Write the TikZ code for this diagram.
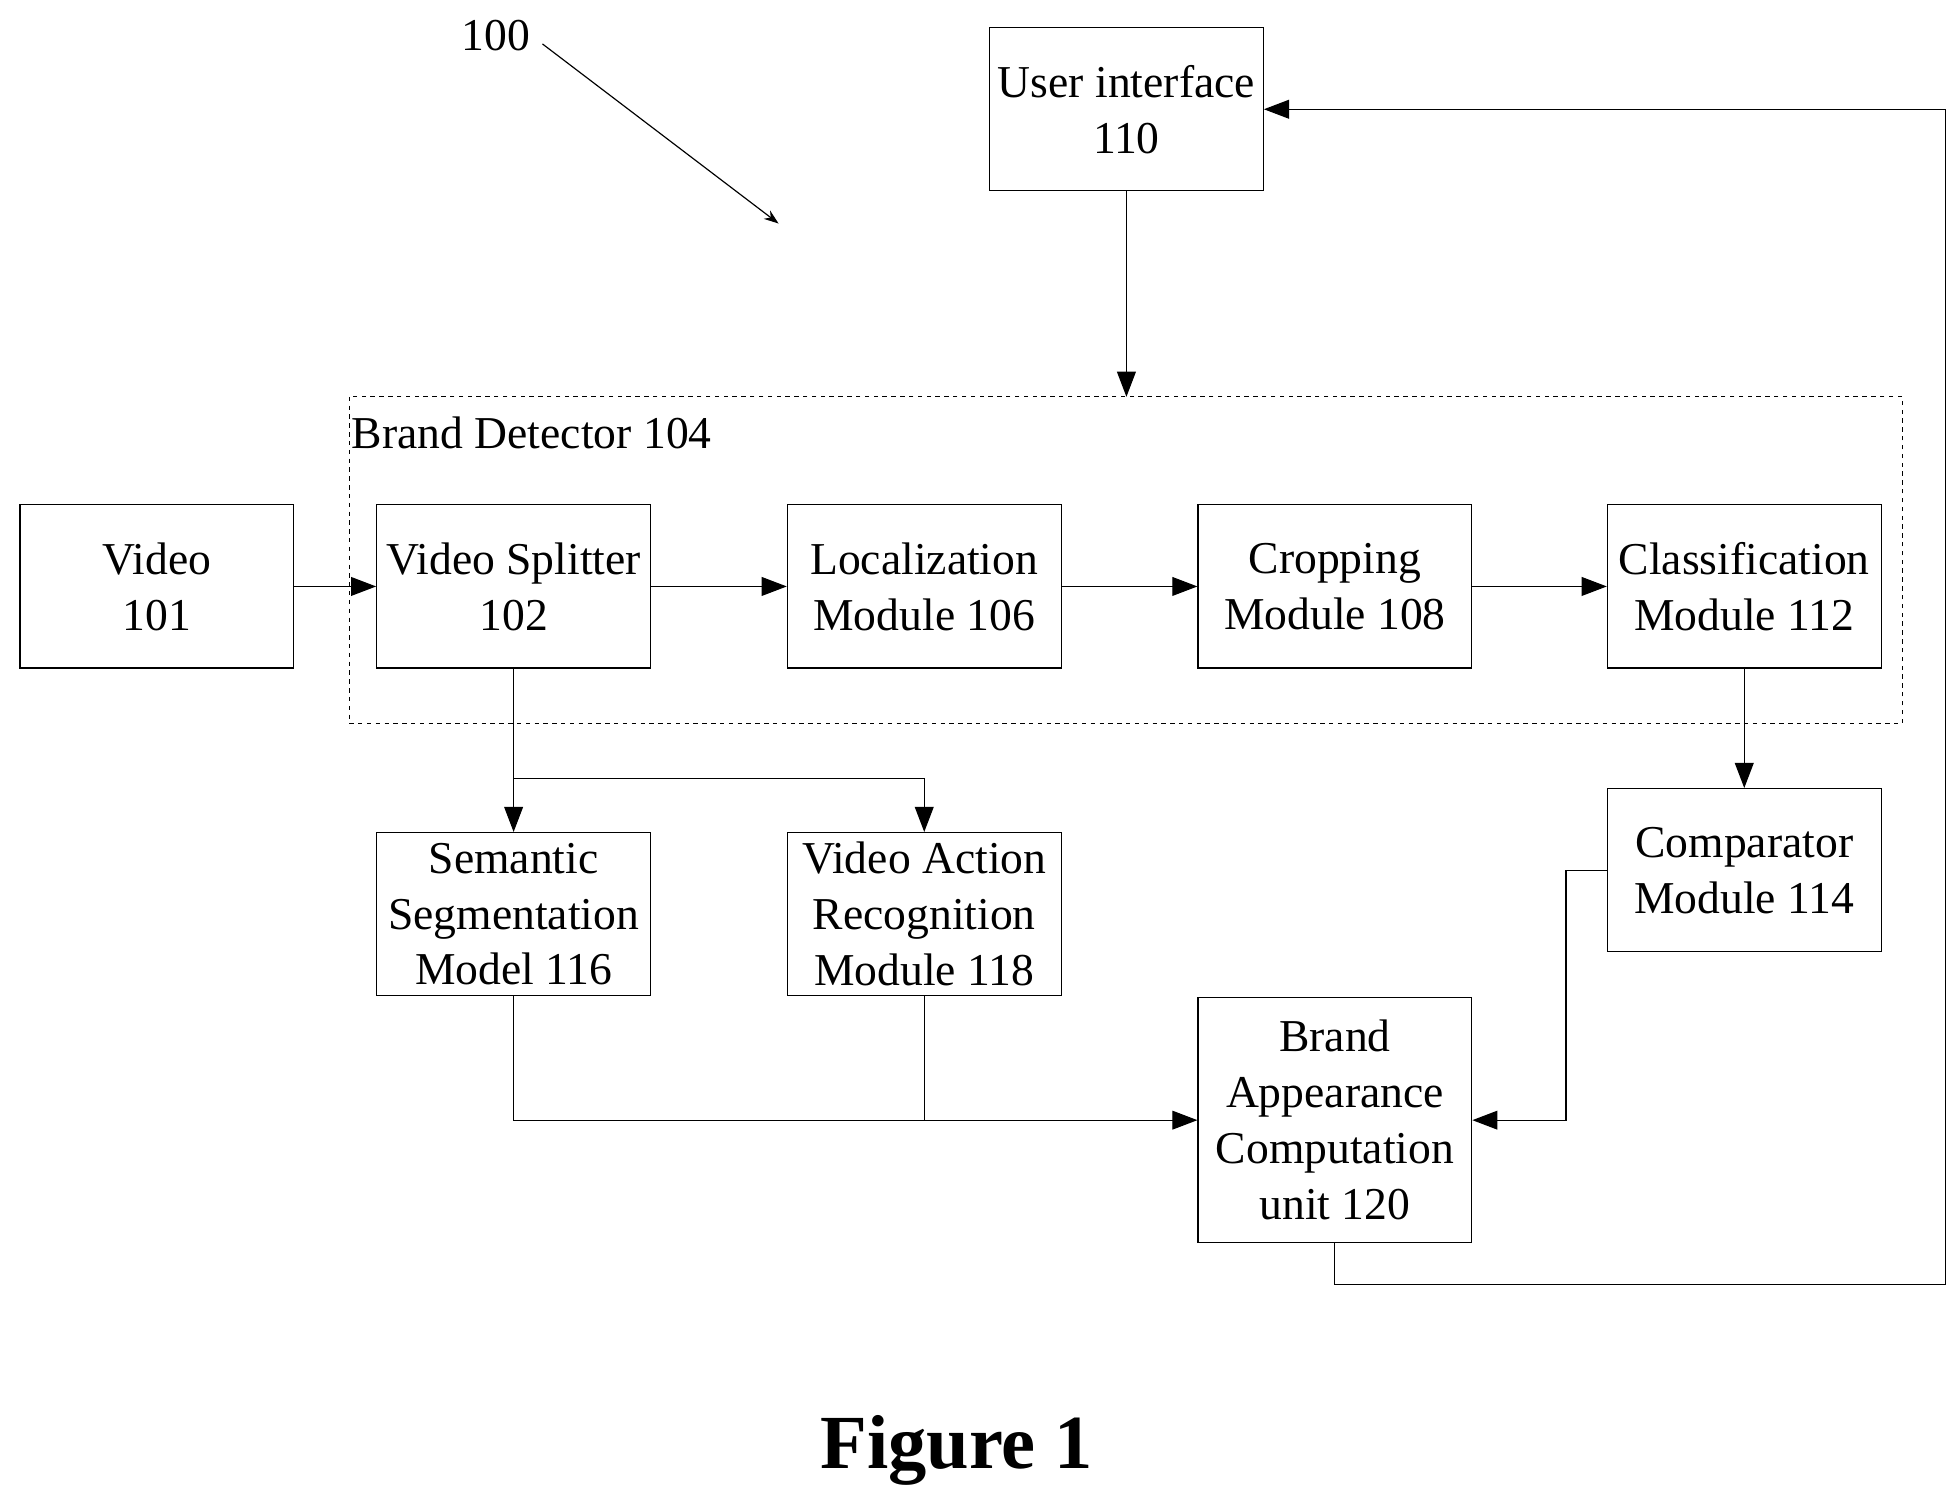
\documentclass[tikz,border=0pt]{standalone}
\usepackage{fontspec}
\setmainfont{Liberation Serif}
\usetikzlibrary{arrows.meta}
\begin{document}
\begin{tikzpicture}[x=0.03cm, y=-0.03cm,
    box/.style={draw, line width=0.8pt, minimum width=6.54cm, minimum height=3.9cm, align=center, inner sep=0pt},
    arr/.style={line width=0.8pt, -{Triangle[length=0.6cm,width=0.45cm]}},
    every node/.style={font=\fontsize{31}{38}\selectfont}]
    \useasboundingbox (0,0) rectangle (1560,1195);

    % Boxes
    \node[box] (video) at (125,467) {Video\\101};
    \node[box] (split) at (409,467) {Video Splitter\\102};
    \node[box] (local) at (736,467) {Localization\\Module 106};
    \node[box] (crop) at (1063,467) {Cropping\\Module 108};
    \node[box] (class) at (1389,467) {Classification\\Module 112};
    \node[box] (ui) at (897,87) {User interface\\110};
    \node[box] (sem) at (409,728) {Semantic\\Segmentation\\Model 116};
    \node[box] (act) at (736,728) {Video Action\\Recognition\\Module 118};
    \node[box] (comp) at (1389,693) {Comparator\\Module 114};
    \node[box, minimum height=5.85cm] (brand) at (1063,892) {Brand\\Appearance\\Computation\\unit 120};

    % Brand detector frame
    \draw[dashed, line width=0.8pt] (278,316) rectangle (1515,576);
    \coordinate (bdtop) at (897,316);
    \node[anchor=north west, inner sep=0pt] (bdlabel) at (280,332) {Brand Detector 104};

    % Reference numeral
    \node (ref) at (395,28) {100};
    \coordinate (reftip) at (620,178);
    \draw[line width=0.8pt, -{Stealth[length=0.35cm,width=0.25cm]}] (432,35) -- (reftip);

    % Connectors
    \draw[arr] (video) -- (split);
    \draw[arr] (split) -- (local);
    \draw[arr] (local) -- (crop);
    \draw[arr] (crop) -- (class);
    \draw[arr] (ui) -- (bdtop);
    \draw[arr] (class) -- (comp);
    \draw[arr] (split.south) -- (409,620) -| (act.north);
    \draw[arr] (409,620) -- (sem.north);
    \draw[arr] (comp.west) -- (1247,693) |- (brand.east);
    \draw[arr] (sem.south) |- (brand.west);
    \draw[line width=0.8pt] (act.south) -- (736,892);
    \draw[arr] (brand.south) -- (1063,1023) -- (1549,1023) |- (ui.east);

    \node[font=\fontsize{52}{60}\selectfont\bfseries] (fig) at (762,1155) {Figure 1};
\end{tikzpicture}
\end{document}
